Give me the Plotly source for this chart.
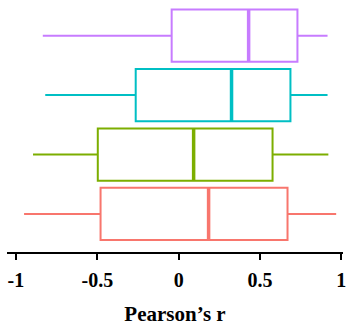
import plotly.graph_objects as go

groups = ["A", "B", "C", "D"]  # bottom to top
colors = ["#F8766D", "#7CAE00", "#00BFC4", "#C77CFF"]
lower = [-0.95, -0.895, -0.82, -0.835]
q1 = [-0.48, -0.497, -0.264, -0.043]
median = [0.184, 0.092, 0.325, 0.43]
q3 = [0.669, 0.577, 0.687, 0.73]
upper = [0.968, 0.92, 0.915, 0.915]
tick_vals = [-1, -0.5, 0, 0.5, 1]
tick_text = ["-1", "-0.5", "0", "0.5", "1"]

fig = go.Figure()
for i, g in enumerate(groups):
    fig.add_trace(go.Box(
        y=[i], q1=[q1[i]], median=[median[i]], q3=[q3[i]],
        lowerfence=[lower[i]], upperfence=[upper[i]],
        orientation="h", name=g,
        line=dict(color=colors[i], width=2),
        fillcolor="rgba(255,255,255,0)",
        whiskerwidth=0, boxpoints=False, width=0.88,
    ))
    # thicker median bar
    fig.add_trace(go.Scatter(
        x=[median[i], median[i]], y=[i - 0.44, i + 0.44],
        mode="lines", line=dict(color=colors[i], width=3.5),
        hoverinfo="skip", showlegend=False,
    ))

fig.update_layout(
    width=350, height=326,
    margin=dict(l=7, r=7, t=0, b=74, autoexpand=False),
    paper_bgcolor="white", plot_bgcolor="white",
    showlegend=False,
    font=dict(family="Liberation Serif", color="black"),
)
fig.update_xaxes(
    range=[-1.055, 1.01], tickvals=tick_vals, ticktext=tick_text,
    automargin=False, ticklabeloverflow="allow",
    showgrid=False, zeroline=False, showline=True, linecolor="black", linewidth=2,
    ticks="outside", ticklen=6, tickwidth=2, tickcolor="black",
    ticklabelstandoff=3,
    tickfont=dict(family="Liberation Serif", size=20, color="black", weight="bold"),
    title=dict(text="Pearson’s r", font=dict(family="Liberation Serif", size=21, color="black", weight="bold"), standoff=17),
)
fig.update_yaxes(
    range=[-0.64, 3.6], showgrid=False, zeroline=False, showline=False,
    showticklabels=False, ticks="", automargin=False,
)
fig.write_html("out.html", config={"displayModeBar": False},
               post_script="document.body.style.margin='0';")
